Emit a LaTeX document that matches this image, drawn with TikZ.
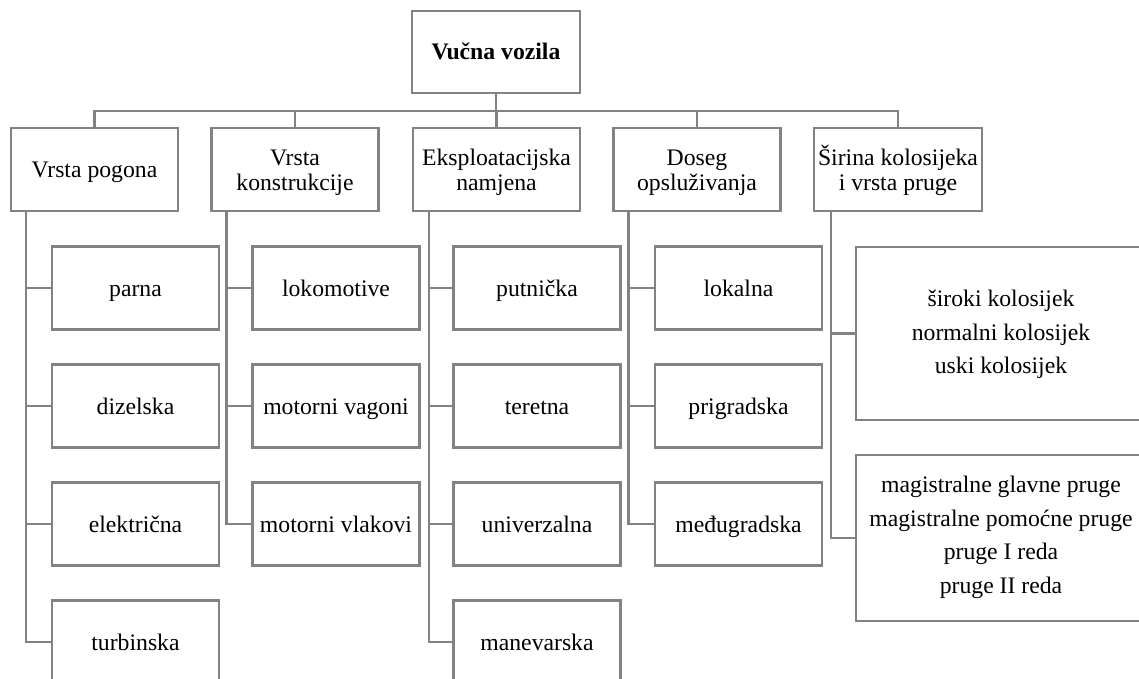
\documentclass[tikz,border=0pt]{standalone}
\usepackage{fontspec}
\setmainfont{Liberation Serif}
\usetikzlibrary{calc}
\definecolor{linegray}{RGB}{130,130,130}
\tikzset{
  box/.style={draw=linegray, line width=2.2pt, fill=white, inner sep=0pt, align=center,
    font=\fontsize{23.7}{25}\selectfont, text depth=0pt, text height=16pt},
  twoline/.style={text height=41pt},
  catbox/.style={box, minimum width=167pt, minimum height=83pt},
  leafbox/.style={box, minimum width=167pt, minimum height=83pt},
  bigbox/.style={box, minimum width=290pt, font=\fontsize{23.7}{33.5}\selectfont},
  conn/.style={draw=linegray, line width=2.2pt}
}
\begin{document}
\begin{tikzpicture}[x=1pt, y=-1pt]
\useasboundingbox (0,0) rectangle (1139,679);
\clip (0,0) rectangle (1139,679);
% root
\node[catbox, minimum width=168pt, minimum height=82pt, font=\fontsize{23.7}{25}\selectfont\bfseries] (root) at (496,52) {Vučna vozila};
\coordinate (bus) at (496,111);
% categories
\node[catbox] (c1) at (94.5,169.5) {Vrsta pogona};
\node[catbox, twoline] (c2) at (295,169.5) {Vrsta\\konstrukcije};
\node[catbox, twoline] (c3) at (496.5,169.5) {Eksploatacijska\\namjena};
\node[catbox, twoline] (c4) at (697,169.5) {Doseg\\opsluživanja};
\node[catbox, twoline, minimum width=168pt] (c5) at (898,169.5) {Širina kolosijeka\\i vrsta pruge};
% leaves col 1
\node[leafbox] (a1) at (135.5,288) {parna};
\node[leafbox] (a2) at (135.5,406) {dizelska};
\node[leafbox] (a3) at (135.5,524) {električna};
\node[leafbox] (a4) at (135.5,642) {turbinska};
% col 2
\node[leafbox] (b1) at (336,288) {lokomotive};
\node[leafbox] (b2) at (336,406) {motorni vagoni};
\node[leafbox] (b3) at (336,524) {motorni vlakovi};
% col 3
\node[leafbox] (d1) at (537,288) {putnička};
\node[leafbox] (d2) at (537,406) {teretna};
\node[leafbox] (d3) at (537,524) {univerzalna};
\node[leafbox] (d4) at (537,642) {manevarska};
% col 4
\node[leafbox] (e1) at (738.5,288) {lokalna};
\node[leafbox] (e2) at (738.5,406) {prigradska};
\node[leafbox] (e3) at (738.5,524) {međugradska};
% col 5
\node[bigbox, minimum height=173pt, text height=80pt] (f1) at (1001,333.5) {široki kolosijek\\normalni kolosijek\\uski kolosijek};
\node[bigbox, minimum height=166pt, text height=110pt] (f2) at (1001,538) {magistralne glavne pruge\\magistralne pomoćne pruge\\pruge I reda\\pruge II reda};
% bus connectors
\draw[conn] (root.south) -- (root.south |- bus);
\draw[conn] (c1.north) -- (c1.north |- bus) -- (c5.north |- bus) -- (c5.north);
\draw[conn] (c2.north) -- (c2.north |- bus);
\draw[conn] (c3.north) -- (c3.north |- bus);
\draw[conn] (c4.north) -- (c4.north |- bus);
% column connectors
\foreach \leaf in {a1,a2,a3,a4} \draw[conn] ([xshift=16pt]c1.south west) |- (\leaf.west);
\foreach \leaf in {b1,b2,b3} \draw[conn] ([xshift=16pt]c2.south west) |- (\leaf.west);
\foreach \leaf in {d1,d2,d3,d4} \draw[conn] ([xshift=17pt]c3.south west) |- (\leaf.west);
\foreach \leaf in {e1,e2,e3} \draw[conn] ([xshift=16pt]c4.south west) |- (\leaf.west);
\foreach \leaf in {f1,f2} \draw[conn] ([xshift=18pt]c5.south west) |- (\leaf.west);
\end{tikzpicture}
\end{document}
